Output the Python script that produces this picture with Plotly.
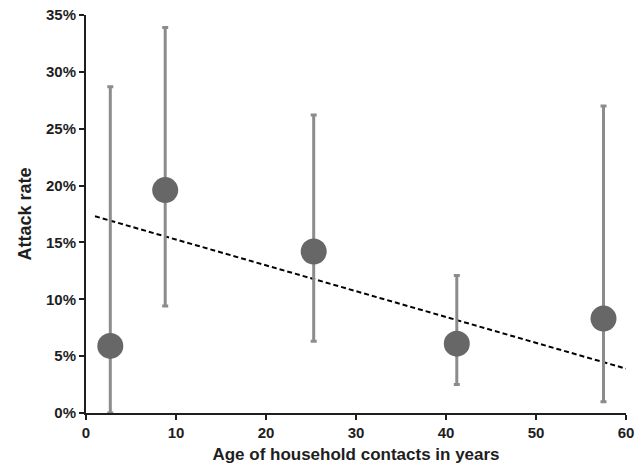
import plotly.graph_objects as go

ages = [2.7, 8.8, 25.3, 41.2, 57.5]
attack_rate = [5.9, 19.6, 14.2, 6.1, 8.3]
ci_upper = [28.7, 33.9, 26.2, 12.1, 27.0]
ci_lower = [0.0, 9.4, 6.3, 2.5, 1.0]
trend_x = [1.0, 60.0]
trend_y = [17.3, 3.9]

err_plus = [u - v for u, v in zip(ci_upper, attack_rate)]
err_minus = [v - l for v, l in zip(attack_rate, ci_lower)]

FAM = "Liberation Sans, Arial, sans-serif"
TXT = "#1e1e1e"

fig = go.Figure()
fig.add_trace(go.Scatter(
    x=trend_x, y=trend_y, mode="lines",
    line=dict(color="black", width=2, dash="5px,3px"),
    showlegend=False, hoverinfo="skip"))
fig.add_trace(go.Scatter(
    x=ages, y=attack_rate, mode="markers",
    marker=dict(size=26, color="#676767"),
    error_y=dict(type="data", symmetric=False, array=err_plus, arrayminus=err_minus,
                 color="#8c8c8c", thickness=3, width=3),
    showlegend=False))

fig.update_layout(
    width=643, height=469,
    margin=dict(l=86, r=17, t=15, b=56, autoexpand=False),
    plot_bgcolor="white", paper_bgcolor="white",
    font=dict(family=FAM, size=13, color=TXT),
    xaxis=dict(range=[0, 60], dtick=10, tick0=0, showgrid=False, zeroline=False,
               automargin=False,
               showline=True, linecolor=TXT, linewidth=2,
               ticks="outside", ticklen=5, tickwidth=1.5, tickcolor=TXT,
               tickfont=dict(family=FAM, size=15, color=TXT, weight="bold"),
               title=dict(text="<b>Age of household contacts in years</b>", standoff=8,
                          font=dict(family=FAM, size=17, color=TXT))),
    yaxis=dict(range=[0, 35], dtick=5, tick0=0, ticksuffix="%", showgrid=False, zeroline=False,
               automargin=False,
               showline=True, linecolor=TXT, linewidth=2,
               ticks="outside", ticklen=5, tickwidth=1.5, tickcolor=TXT,
               tickfont=dict(family=FAM, size=15, color=TXT, weight="bold"),
               title=dict(text="<b>Attack rate</b>", standoff=10,
                          font=dict(family=FAM, size=18, color=TXT))),
)
fig.write_html("out.html", config={"displayModeBar": False},
               post_script="document.body.style.margin='0';")
